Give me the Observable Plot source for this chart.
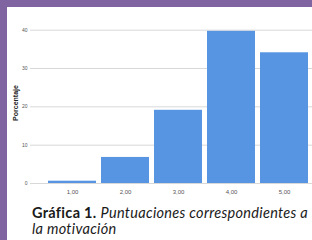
<!DOCTYPE html>
<html>
<head>
<meta charset="utf-8">
<script src="https://cdn.jsdelivr.net/npm/d3@7"></script>
<script src="https://cdn.jsdelivr.net/npm/@observablehq/plot@0.6"></script>
<style>
  html, body { margin: 0; padding: 0; }
  body { width: 312px; height: 240px; background: #8064a2; overflow: hidden; position: relative; }
  #panel { position: absolute; left: 7px; top: 7px; width: 305px; height: 233px; background: #fff; overflow: hidden; }
  #chart svg { display: block; }
  #caption { font-family: Lato, "Open Sans", sans-serif; font-size: 14.5px; line-height: 16px; letter-spacing: 0.3px; color: #1a1a1a; padding: 2px 0 0 25px; white-space: nowrap; }
  #caption b { font-weight: 700; }
  #caption i { font-style: italic; }
</style>
</head>
<body>
<div id="panel">
  <div id="chart"></div>
  <div id="caption"><b>Gráfica 1.</b> <i>Puntuaciones correspondientes a</i><br><i>la motivación</i></div>
</div>
<script>
const categories = ["1,00", "2,00", "3,00", "4,00", "5,00"];
const values = [0.6, 6.8, 19.1, 39.7, 34.1];
const yTicks = [0, 10, 20, 30, 40];

const data = categories.map((c, i) => ({cat: c, value: values[i]}));

const chart = Plot.plot({
  width: 305,
  height: 196,
  marginLeft: 23,
  marginRight: 0,
  marginTop: 15,
  marginBottom: 20,
  style: {fontFamily: "Liberation Sans, Arial, sans-serif", background: "transparent"},
  x: {domain: categories, paddingInner: 0.1, paddingOuter: 0.198, align: 0.81, label: null},
  y: {domain: [0, 42], label: null},
  marks: [
    Plot.gridY(yTicks, {stroke: "#d8d8d8", strokeOpacity: 1, strokeWidth: 1}),
    Plot.axisY(yTicks, {tickSize: 0, tickPadding: 3, fontSize: 5, fill: "#555", label: null}),
    Plot.axisX({tickSize: 0, tickPadding: 6, fontSize: 6, fill: "#555", label: null}),
    Plot.barY(data, {x: "cat", y: "value", fill: "#5794e2"}),
    Plot.ruleX([0], {x: () => 0, frameAnchor: "left", stroke: "#aaa"}),
    Plot.text(["Porcentaje"], {frameAnchor: "left", textAnchor: "middle", dx: -15, rotate: -90, fontSize: 7, fontWeight: "bold", fill: "#222"})
  ]
});
document.getElementById("chart").appendChild(chart);
</script>
</body>
</html>
